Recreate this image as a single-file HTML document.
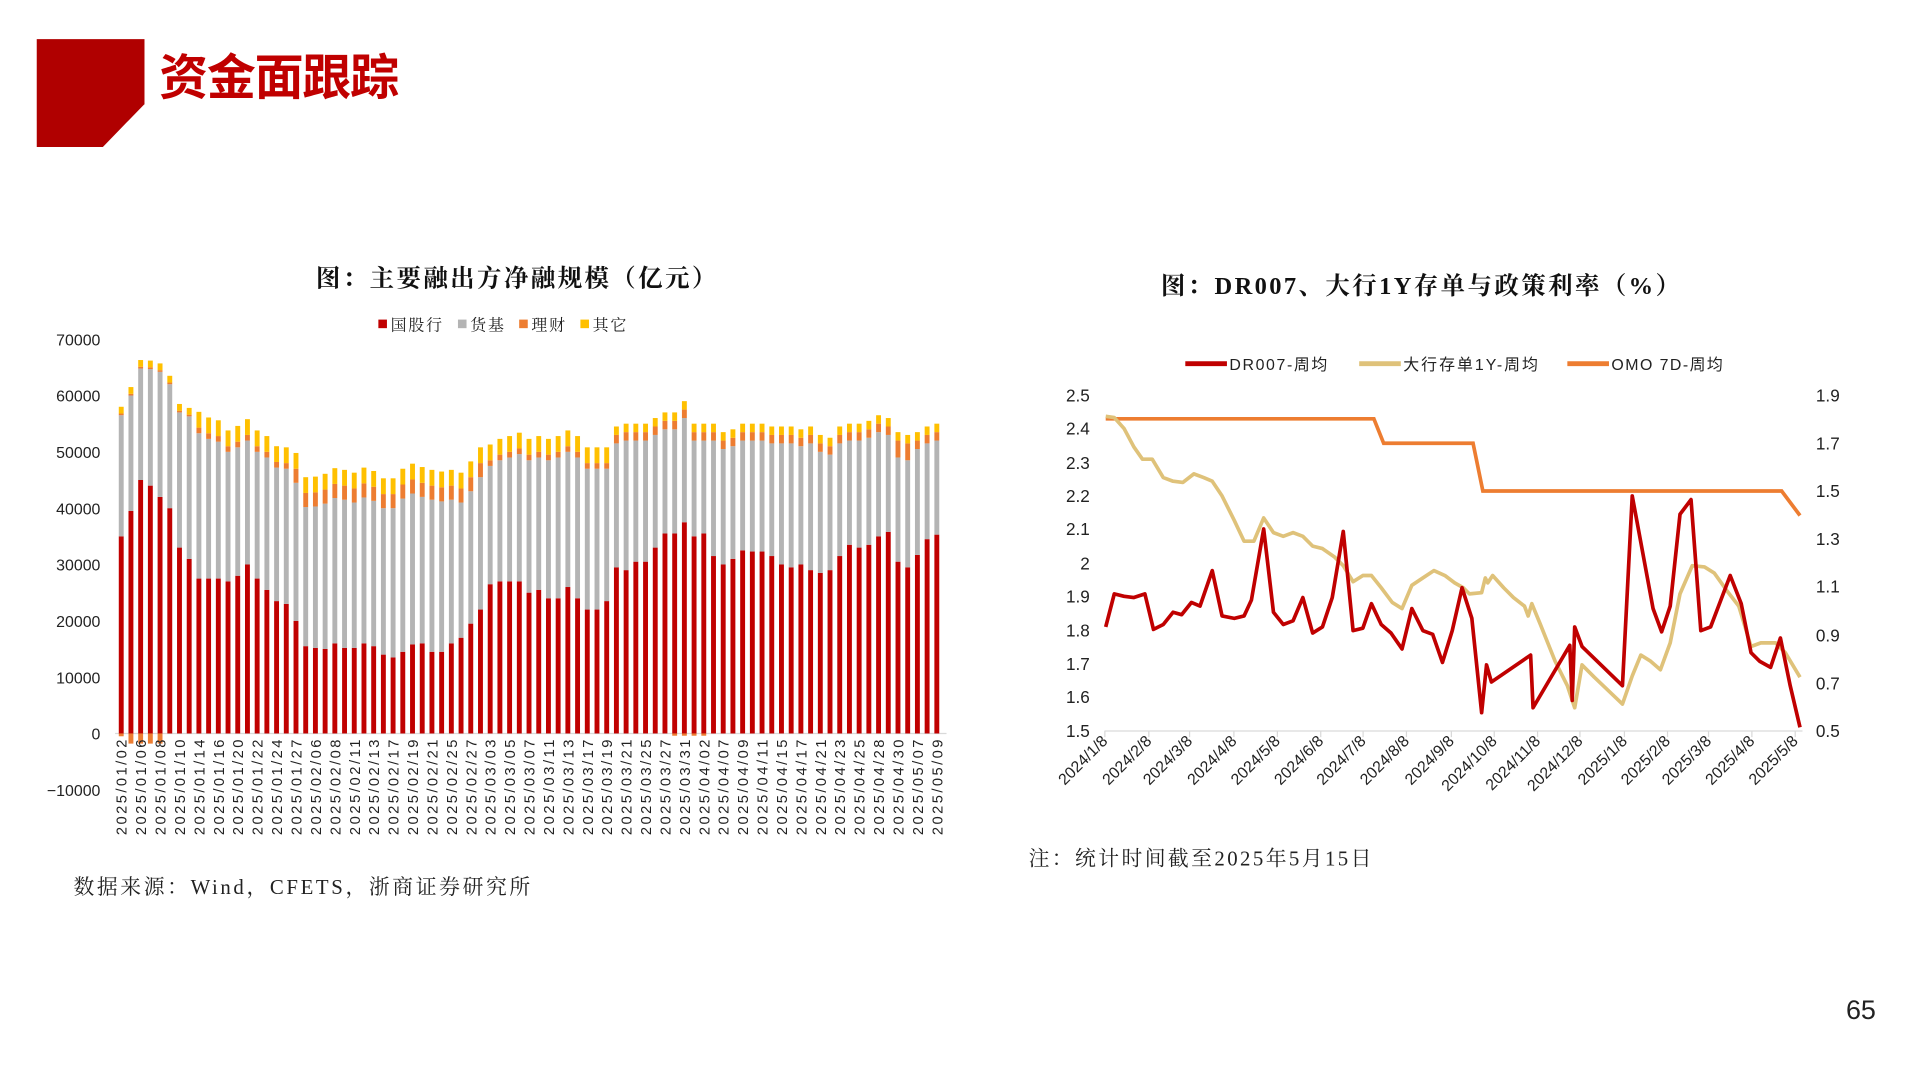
<!DOCTYPE html>
<html><head><meta charset="utf-8">
<style>
html,body{margin:0;padding:0;background:#fff;}
svg{display:block;}
.s{font-family:"Liberation Serif","Noto Serif CJK SC",serif;}
.a{font-family:"Liberation Sans","Noto Sans CJK SC",sans-serif;}
</style></head>
<body>
<svg id="c" width="1920" height="1080" viewBox="0 0 1568 882" xmlns="http://www.w3.org/2000/svg">
<rect width="1568" height="882" fill="#fff"/>
<polygon points="30,32 118,32 118,85 84,120 30,120" fill="#b00000"/>
<text x="130" y="77" font-size="40" font-weight="bold" fill="#c00000" class="a" letter-spacing="-1">资金面跟踪</text>

<text x="258" y="234" font-size="20" font-weight="bold" class="s" fill="#111" textLength="327">图：主要融出方净融规模（亿元）</text>
<g class="s" font-size="13" fill="#222" letter-spacing="1.5">
<rect x="309" y="261" width="7" height="7" fill="#c00000"/><text x="319" y="270">国股行</text>
<rect x="374" y="261" width="7" height="7" fill="#b4b4b4"/><text x="384" y="270">货基</text>
<rect x="424" y="261" width="7" height="7" fill="#ed7d31"/><text x="434" y="270">理财</text>
<rect x="474" y="261" width="7" height="7" fill="#ffc000"/><text x="484" y="270">其它</text>
</g>
<g class="a" font-size="13" fill="#222" text-anchor="end">
<text x="82" y="282">70000</text><text x="82" y="328">60000</text><text x="82" y="374">50000</text>
<text x="82" y="420">40000</text><text x="82" y="466">30000</text><text x="82" y="512">20000</text>
<text x="82" y="558">10000</text><text x="82" y="604">0</text><text x="82" y="650">−10000</text>
</g>
<line x1="94" y1="599" x2="773" y2="599" stroke="#d9d9d9" stroke-width="1"/>
<g id="bars"></g>
<g id="xl" class="a" font-size="12" fill="#222"></g>

<text x="948" y="240" font-size="20" font-weight="bold" class="s" fill="#111" textLength="424">图：DR007、大行1Y存单与政策利率（%）</text>
<g class="a" font-size="13" fill="#222">
<line x1="968" y1="297" x2="1002" y2="297" stroke="#c00000" stroke-width="4"/><text x="1004" y="302" textLength="80">DR007-周均</text>
<line x1="1110" y1="297" x2="1144" y2="297" stroke="#dfc27a" stroke-width="4"/><text x="1146" y="302" textLength="110">大行存单1Y-周均</text>
<line x1="1280" y1="297" x2="1314" y2="297" stroke="#ed7d31" stroke-width="4"/><text x="1316" y="302" textLength="91">OMO 7D-周均</text>
</g>
<g class="a" font-size="14" fill="#222" text-anchor="end">
<text x="890" y="328">2.5</text><text x="890" y="355">2.4</text><text x="890" y="383">2.3</text>
<text x="890" y="410">2.2</text><text x="890" y="437">2.1</text><text x="890" y="465">2</text>
<text x="890" y="492">1.9</text><text x="890" y="520">1.8</text><text x="890" y="547">1.7</text>
<text x="890" y="574">1.6</text><text x="890" y="602">1.5</text>
</g>
<g class="a" font-size="14" fill="#222">
<text x="1483" y="328">1.9</text><text x="1483" y="367">1.7</text><text x="1483" y="406">1.5</text>
<text x="1483" y="445">1.3</text><text x="1483" y="484">1.1</text><text x="1483" y="524">0.9</text>
<text x="1483" y="563">0.7</text><text x="1483" y="602">0.5</text>
</g>
<line x1="902" y1="597" x2="1472" y2="597" stroke="#d9d9d9"/>
<g id="rt" class="a" font-size="13" fill="#222"></g>
<polyline fill="none" stroke="#ed7d31" stroke-width="3" points="903,342 1122,342 1130,362 1203,362 1211,401 1455,401 1470,421"/>
<polyline fill="none" stroke="#dfc27a" stroke-width="3" stroke-linejoin="round" points="903,340 910,341 918,350 926,365 933,375 941,375 950,390 958,393 966,394 975,387 983,390 990,393 998,405 1008,425 1016,442 1024,442 1032,423 1040,435 1048,438 1056,435 1064,438 1072,446 1080,448 1090,455 1097,462 1105,475 1113,470 1120,470 1128,480 1137,492 1145,497 1153,478 1162,472 1171,466 1180,470 1188,476 1195,480 1200,485 1210,484 1213,472 1215,476 1219,470 1228,480 1236,488 1245,495 1248,503 1251,493 1258,510 1270,540 1280,560 1286,578 1292,543 1302,553 1325,575 1333,552 1340,535 1348,540 1356,547 1364,525 1372,485 1382,462 1392,463 1400,468 1410,482 1420,495 1430,528 1438,525 1450,525 1458,533 1470,553"/>
<polyline fill="none" stroke="#c00000" stroke-width="3" stroke-linejoin="round" points="903,512 910,485 918,487 926,488 935,485 942,514 950,510 958,500 965,502 973,492 980,495 990,466 998,503 1008,505 1016,503 1022,490 1032,432 1040,500 1048,510 1056,507 1064,488 1072,517 1080,512 1088,488 1097,434 1105,515 1113,513 1120,493 1128,510 1136,517 1145,530 1153,497 1162,515 1170,518 1178,541 1186,515 1194,480 1202,505 1210,582 1214,543 1218,557 1250,535 1252,578 1282,527 1284,572 1286,512 1292,528 1325,560 1333,405 1350,497 1357,516 1364,495 1372,420 1381,408 1389,515 1397,512 1413,470 1422,493 1430,533 1437,540 1446,545 1454,521 1462,560 1470,594"/>

<text x="60" y="730" font-size="17" class="s" fill="#222" textLength="373">数据来源：Wind，CFETS，浙商证券研究所</text>
<text x="840" y="707" font-size="17" class="s" fill="#222" textLength="280">注：统计时间截至2025年5月15日</text>
<text x="1532" y="832" font-size="22" text-anchor="end" class="a" fill="#222">65</text>
</svg>
<script>
var NS="http://www.w3.org/2000/svg";
function el(p,t,a,txt){var e=document.createElementNS(NS,t);for(var k in a)e.setAttribute(k,a[k]);if(txt)e.textContent=txt;p.appendChild(e);return e;}
var red=[35,39.5,45,44,42,40,33,31,27.5,27.5,27.5,27,28,30,27.5,25.5,23.5,23,20,15.5,15.2,15,16,15.2,15.2,16,15.5,14,13.5,14.5,15.8,16,14.5,14.5,16,17,19.5,22,26.5,27,27,27,25,25.5,24,24,26,24,22,22,23.5,29.5,29,30.5,30.5,33,35.5,35.5,37.5,35,35.5,31.5,30,31,32.5,32.3,32.3,31.5,30,29.5,30,29,28.5,29,31.5,33.5,33,33.5,35,35.8,30.5,29.5,31.7,34.5,35.3];
var gt=[56.5,60,64.8,64.7,64.2,62,57,56.3,53.3,52.3,51.8,50,50.8,52,50,49,47.2,47,44.5,40.2,40.3,40.8,41.8,41.5,41,41.9,41.3,40,40,41.7,42.6,42,41.5,41.2,41.5,41,43,45.5,47.5,48.5,49,49.6,48.5,49,48.5,49,50,49,47,47,47,51.5,52,52,52,53,54,54,56,52,52,52,50.5,51,52,52,52,51.5,51.5,51.5,51,51.5,50,49.5,51.5,52,52,52.5,53.5,53,49,48.5,50.5,51.5,52];
var b=document.getElementById('bars');
var x0=97,pitch=(771-97)/85,k=4.6,y0=599;
for(var i=0;i<85;i++){
 var x=x0+i*pitch;
 var o= i<8?0.3:(i<18?1:(i<38?2.5:(i<51?1:(i>=80&&i<=81?3:1.5))));
 var yv= i<8?1.2:(i<51?2.8:1.5);
 var r=red[i],g=gt[i];
 el(b,'rect',{x:x,y:y0-r*k,width:4,height:r*k,fill:'#c00000'});
 el(b,'rect',{x:x,y:y0-g*k,width:4,height:(g-r)*k,fill:'#b4b4b4'});
 el(b,'rect',{x:x,y:y0-(g+o)*k,width:4,height:o*k,fill:'#ed7d31'});
 el(b,'rect',{x:x,y:y0-(g+o+yv)*k,width:4,height:yv*k,fill:'#ffc000'});
 if(i<5){el(b,'rect',{x:x,y:y0,width:4,height:(i==0?0.5:1.8)*k,fill:'#ed7d31'});}
 if(i>=57&&i<=60){el(b,'rect',{x:x,y:y0,width:4,height:0.4*k,fill:'#ed7d31'});}
}
var labs=["01/02","01/06","01/08","01/10","01/14","01/16","01/20","01/22","01/24","01/27","02/06","02/08","02/11","02/13","02/17","02/19","02/21","02/25","02/27","03/03","03/05","03/07","03/11","03/13","03/17","03/19","03/21","03/25","03/27","03/31","04/02","04/07","04/09","04/11","04/15","04/17","04/21","04/23","04/25","04/28","04/30","05/07","05/09"];
var xl=document.getElementById('xl');
for(var j=0;j<labs.length;j++){var x=x0+j*2*pitch+6.5;el(xl,'text',{x:0,y:0,transform:'translate('+x+',604) rotate(-90)','text-anchor':'end',textLength:78},'2025/'+labs[j]);}
var tk=[902.3,938.2,971.5,1007.7,1043.2,1078.6,1113.2,1148.6,1185.3,1220.3,1255.7,1290.3,1326.6,1361.8,1395.3,1430.7,1466.1];
var tl=["2024/1/8","2024/2/8","2024/3/8","2024/4/8","2024/5/8","2024/6/8","2024/7/8","2024/8/8","2024/9/8","2024/10/8","2024/11/8","2024/12/8","2025/1/8","2025/2/8","2025/3/8","2025/4/8","2025/5/8"];
var rt=document.getElementById('rt');
for(var j=0;j<tk.length;j++){el(rt,'line',{x1:tk[j],y1:597,x2:tk[j],y2:602,stroke:'#d9d9d9'});el(rt,'text',{x:0,y:0,transform:'translate('+(tk[j]+3)+',606) rotate(-45)','text-anchor':'end'},tl[j]);}
</script>
</body></html>
